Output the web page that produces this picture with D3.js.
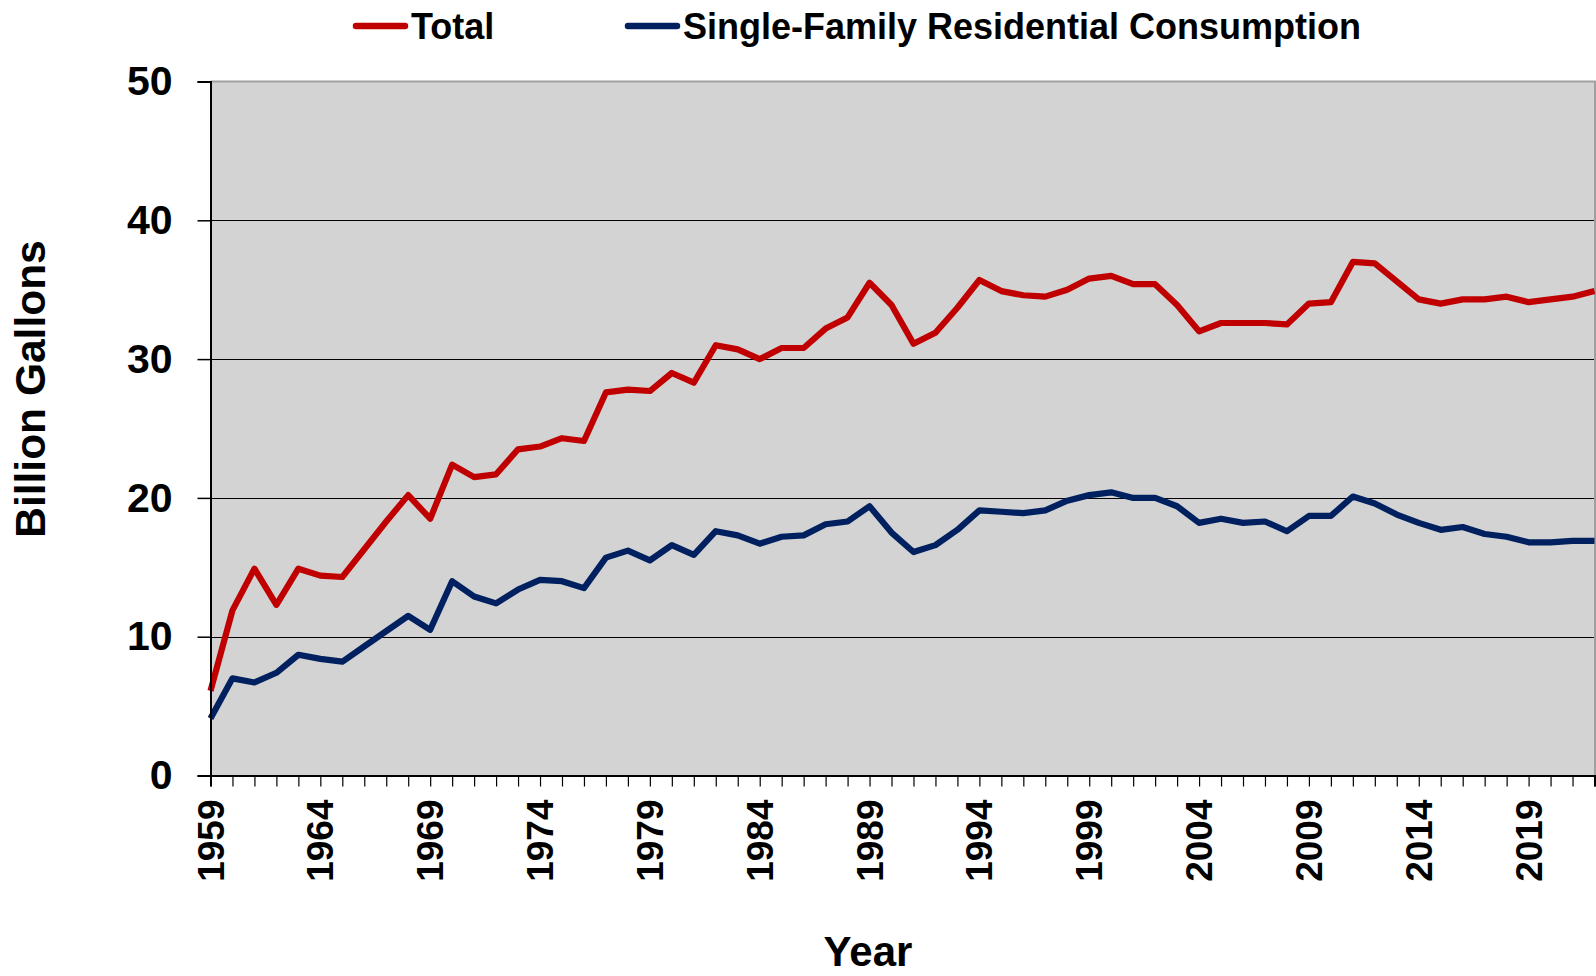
<!DOCTYPE html>
<html>
<head>
<meta charset="utf-8">
<script src="https://cdn.jsdelivr.net/npm/d3@7"></script>
<style>
  html, body { margin: 0; padding: 0; background: #ffffff; }
  svg { display: block; }
  text { font-family: Arial, "Liberation Sans", sans-serif; font-weight: bold; fill: #000; }
</style>
</head>
<body>
<svg id="chart" width="1596" height="976"></svg>
<script>
const years = [1959,1960,1961,1962,1963,1964,1965,1966,1967,1968,1969,1970,1971,1972,1973,1974,1975,1976,1977,1978,1979,
  1980,1981,1982,1983,1984,1985,1986,1987,1988,1989,1990,1991,1992,1993,1994,1995,1996,1997,1998,1999,
  2000,2001,2002,2003,2004,2005,2006,2007,2008,2009,2010,2011,2012,2013,2014,2015,2016,2017,2018,2019,2020,2021,2022];

const totalValues = [6.1,11.9,14.9,12.3,14.9,14.4,14.3,16.3,18.3,20.2,18.5,22.4,21.5,21.7,23.5,23.7,24.3,24.1,27.6,27.8,27.7,
  29.0,28.3,31.0,30.7,30.0,30.8,30.8,32.2,33.0,35.5,33.9,31.1,31.9,33.7,35.7,34.9,34.6,34.5,35.0,35.8,
  36.0,35.4,35.4,33.9,32.0,32.6,32.6,32.6,32.5,34.0,34.1,37.0,36.9,35.6,34.3,34.0,34.3,34.3,34.5,34.1,34.3,34.5,34.9];

const singleFamilyValues = [4.1,7.0,6.7,7.4,8.7,8.4,8.2,9.3,10.4,11.5,10.5,14.0,12.9,12.4,13.4,14.1,14.0,13.5,15.7,16.2,15.5,
  16.6,15.9,17.6,17.3,16.7,17.2,17.3,18.1,18.3,19.4,17.5,16.1,16.6,17.7,19.1,19.0,18.9,19.1,19.8,20.2,
  20.4,20.0,20.0,19.4,18.2,18.5,18.2,18.3,17.6,18.7,18.7,20.1,19.6,18.8,18.2,17.7,17.9,17.4,17.2,16.8,16.8,16.9,16.9];

const xTickLabels = [1959,1964,1969,1974,1979,1984,1989,1994,1999,2004,2009,2014,2019];
const yTickValues = [0,10,20,30,40,50];
const seriesNames = ["Total", "Single-Family Residential Consumption"];
const seriesColors = ["#c00000", "#002060"];
const yAxisTitle = "Billion Gallons";
const xAxisTitle = "Year";

const svg = d3.select("#chart");
const pLeft = 210.5, pRight = 1594.5, pTop = 81.5, pBottom = 775.5;

const x = d3.scaleLinear().domain([years[0], years[years.length - 1]]).range([pLeft, pRight]);
const y = d3.scaleLinear().domain([0, 50]).range([pBottom, pTop]);

// plot background
svg.append("rect")
  .attr("x", pLeft).attr("y", pTop)
  .attr("width", pRight - pLeft).attr("height", pBottom - pTop)
  .attr("fill", "#d3d3d3");

// gridlines
svg.append("g")
  .selectAll("line")
  .data(yTickValues.filter(v => v > 0 && v < 50))
  .join("line")
  .attr("x1", pLeft).attr("x2", pRight)
  .attr("y1", d => Math.round(y(d)) + 0.5).attr("y2", d => Math.round(y(d)) + 0.5)
  .attr("stroke", "#000").attr("stroke-width", 1);

// plot border top & right (gray)
svg.append("path")
  .attr("d", `M${pLeft},${pTop} H${pRight + 0.5} V${pBottom}`)
  .attr("fill", "none").attr("stroke", "#a0a0a0").attr("stroke-width", 2);

// lines
const lineGen = d3.line().x((d, i) => x(years[i])).y(d => y(d));
[totalValues, singleFamilyValues].forEach((vals, k) => {
  svg.append("path")
    .datum(vals)
    .attr("d", lineGen)
    .attr("fill", "none")
    .attr("stroke", seriesColors[k])
    .attr("stroke-width", 6.2)
    .attr("stroke-linejoin", "round")
    .attr("stroke-linecap", "butt");
});

// y axis
const yAxis = d3.axisLeft(y).tickValues(yTickValues).tickSize(13).tickPadding(25).tickFormat(d3.format("d"));
const gy = svg.append("g").attr("transform", `translate(${pLeft},0)`).call(yAxis);
gy.select(".domain").attr("stroke", "#000").attr("stroke-width", 2);
gy.selectAll(".tick line").attr("stroke", "#000").attr("stroke-width", 1.5);
gy.selectAll(".tick text")
  .style("font-size", "41px").style("font-family", "Arial, 'Liberation Sans', sans-serif")
  .style("font-weight", "bold").attr("fill", "#000");

// x axis: ticks every year, labels every 5
const xAxis = d3.axisBottom(x).tickValues(years).tickSize(11).tickFormat(() => "");
const gx = svg.append("g").attr("transform", `translate(0,${pBottom})`).call(xAxis);
gx.select(".domain").attr("stroke", "#000").attr("stroke-width", 2);
gx.selectAll(".tick line").attr("stroke", "#000").attr("stroke-width", 1.2);

svg.append("g")
  .selectAll("text")
  .data(xTickLabels)
  .join("text")
  .attr("transform", d => `translate(${x(d) + 13},${pBottom + 24}) rotate(-90)`)
  .attr("text-anchor", "end")
  .style("font-size", "37px")
  .text(d => d);

// axis titles
svg.append("text")
  .attr("transform", `translate(45,389) rotate(-90)`)
  .attr("text-anchor", "middle")
  .style("font-size", "42.5px")
  .text(yAxisTitle);

svg.append("text")
  .attr("x", 868).attr("y", 966)
  .attr("text-anchor", "middle")
  .style("font-size", "42px")
  .text(xAxisTitle);

// legend
const legendItems = [
  { lx1: 356, lx2: 405, tx: 411 },
  { lx1: 628, lx2: 677, tx: 683 }
];
legendItems.forEach((it, k) => {
  svg.append("line")
    .attr("x1", it.lx1).attr("x2", it.lx2)
    .attr("y1", 26).attr("y2", 26)
    .attr("stroke", seriesColors[k]).attr("stroke-width", 6.5)
    .attr("stroke-linecap", "round");
  svg.append("text")
    .attr("x", it.tx).attr("y", 39)
    .style("font-size", "36px")
    .text(seriesNames[k]);
});
</script>
</body>
</html>
